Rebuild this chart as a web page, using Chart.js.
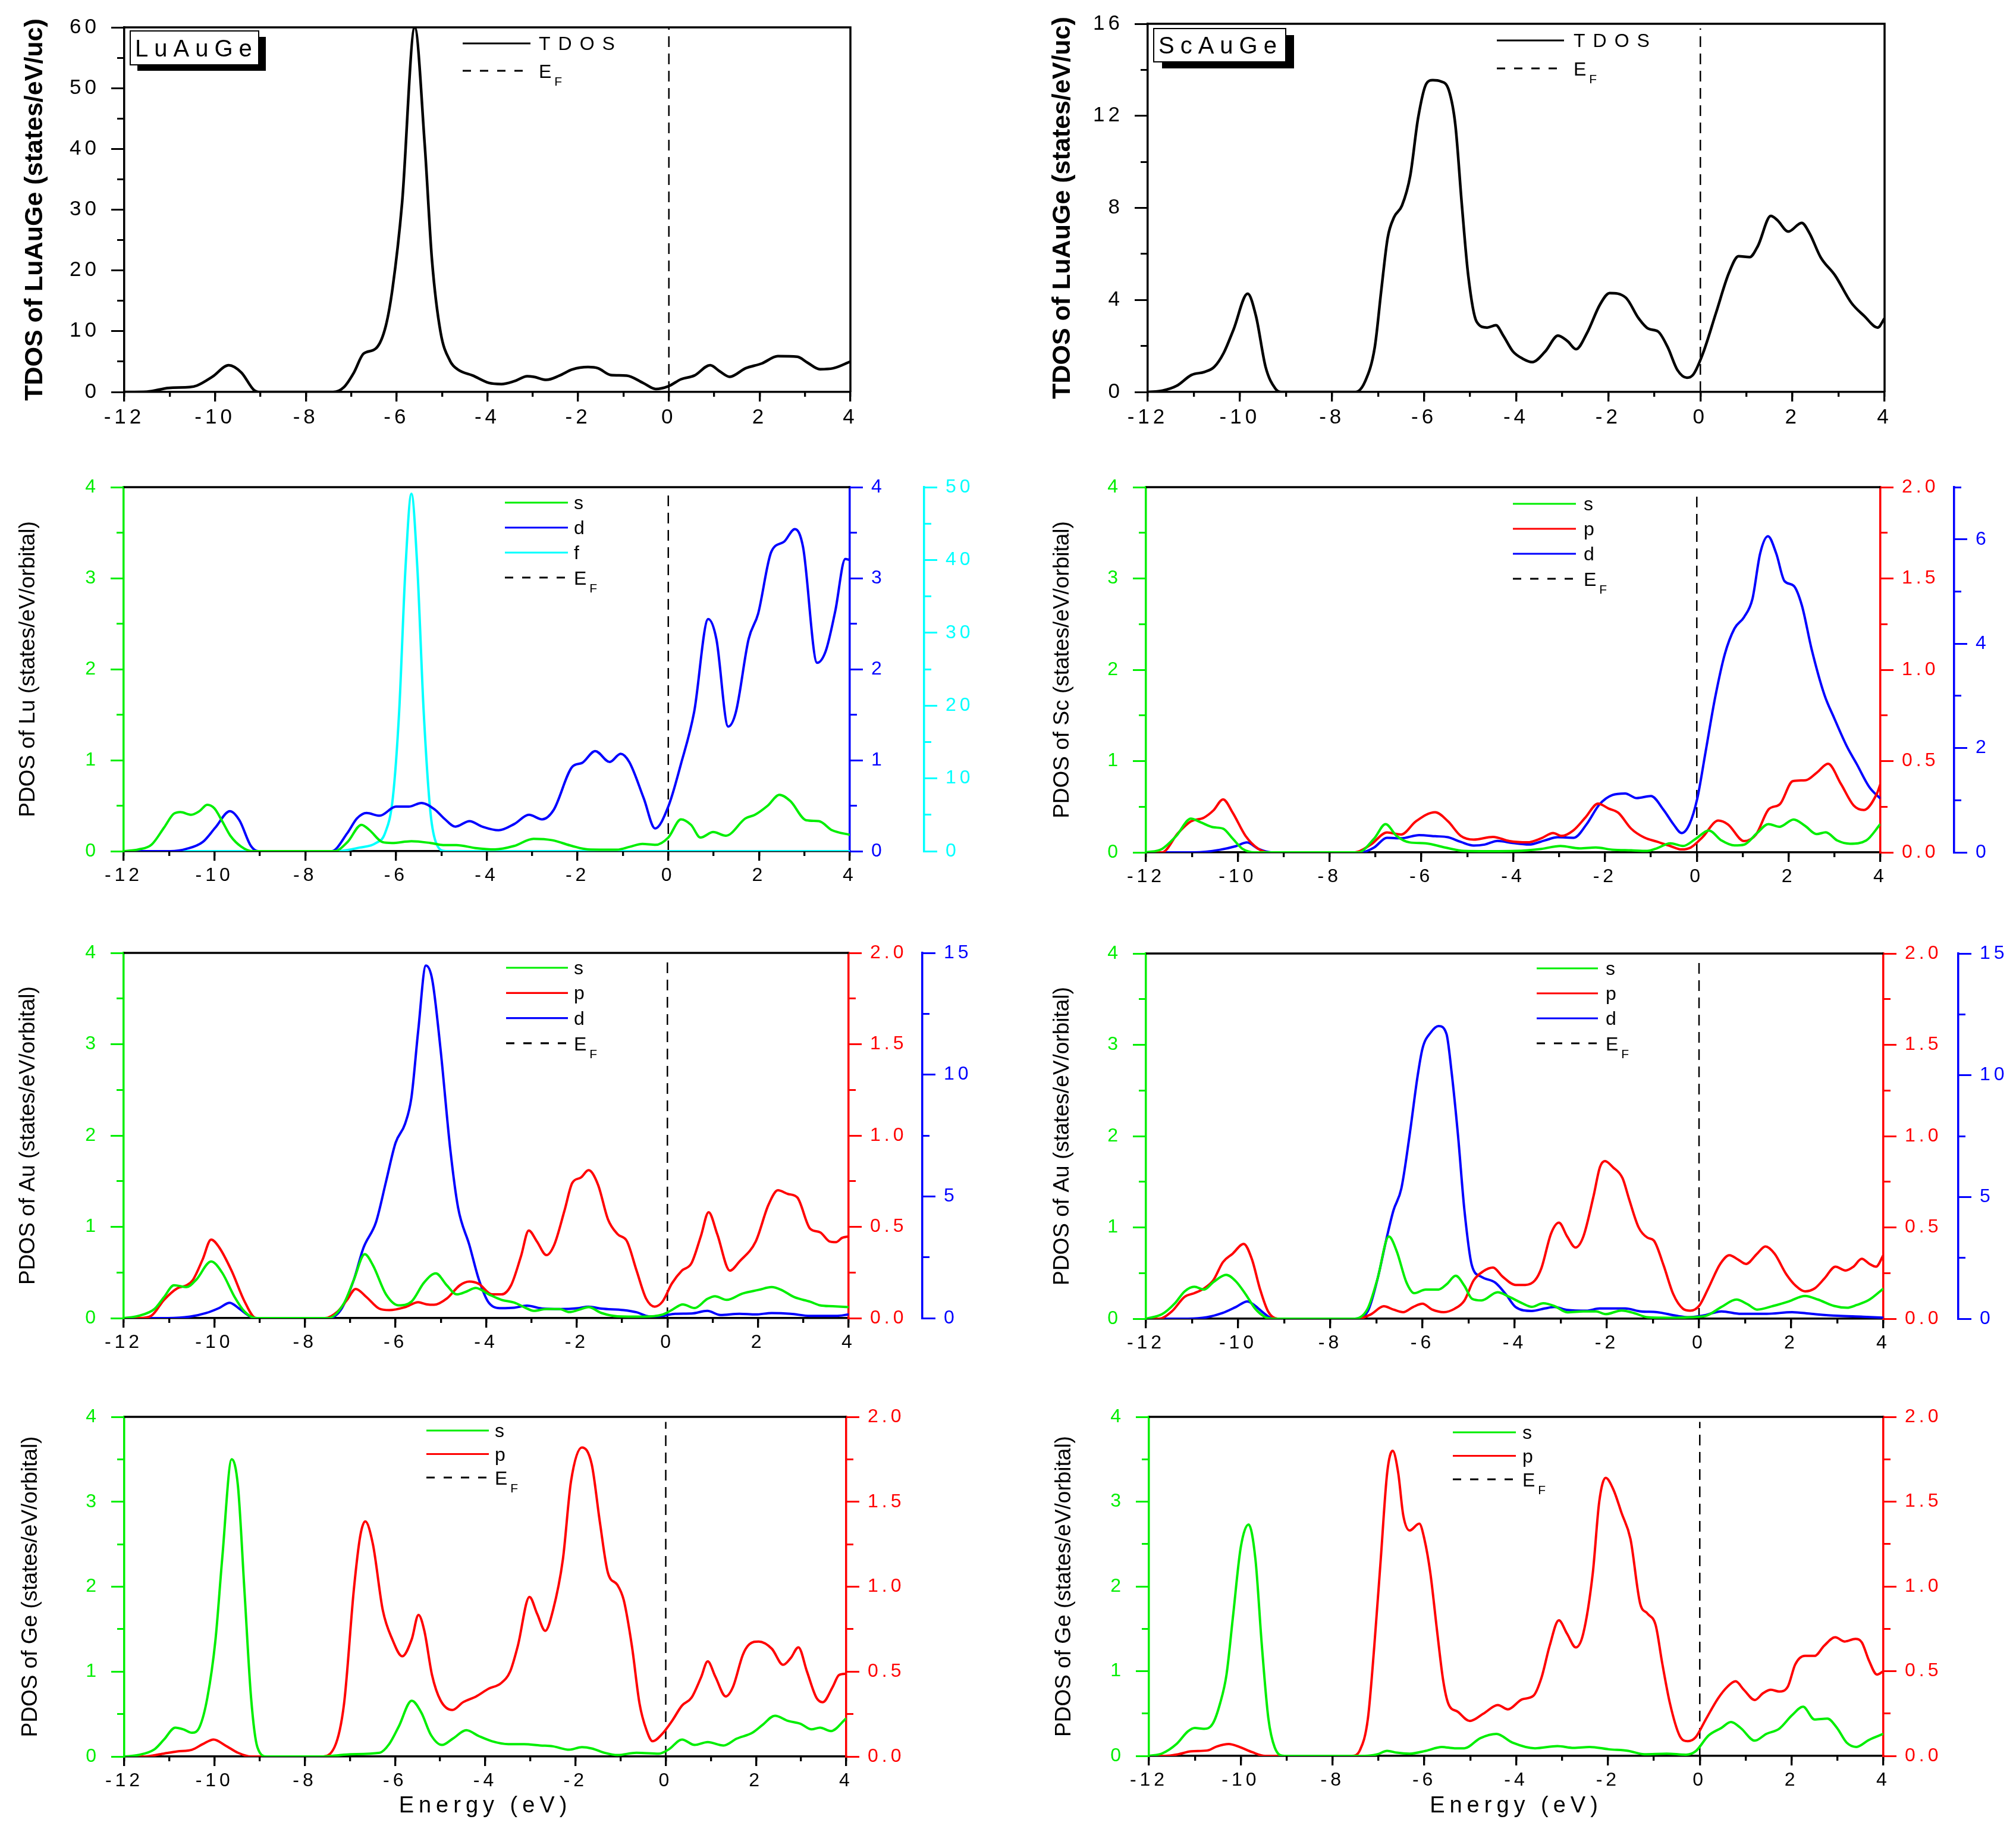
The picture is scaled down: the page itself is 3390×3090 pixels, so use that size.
<!DOCTYPE html>
<html>
<head>
<meta charset="utf-8">
<title>DOS of LuAuGe and ScAuGe</title>
<script src="https://cdn.jsdelivr.net/npm/chart.js@4.4.1/dist/chart.umd.min.js"></script>
<style>
  body { margin: 0; background: #fff; width: 3390px; height: 3090px; position: relative; overflow: hidden; }
  canvas { position: absolute; }
</style>
</head>
<body>
<canvas id="p1"></canvas>
<canvas id="p2"></canvas>
<canvas id="p3"></canvas>
<canvas id="p4"></canvas>
<canvas id="p5"></canvas>
<canvas id="p6"></canvas>
<canvas id="p7"></canvas>
<canvas id="p8"></canvas>
<script>
// ---- data (energy in eV, DOS values) ----
const efE = [0, 0];

// LuAuGe total DOS
const luTdosE = [-12,-11.5,-11.02,-10.56,-10.4,-10.06,-9.7,-9.42,-9.14,-9.0,-7.4,-7.16,-6.94,-6.73,-6.45,-6.24,-6.09,-5.88,-5.6,-5.38,-5.22,-5.03,-4.82,-4.65,-4.32,-3.97,-3.69,-3.4,-3.12,-2.98,-2.7,-2.41,-2.13,-1.78,-1.56,-1.28,-0.93,-0.57,-0.29,-0.01,0.27,0.56,0.91,1.12,1.34,1.69,2.05,2.4,2.83,3.05,3.33,3.62,4.0];
const luTdosV = [0,0.05,0.67,0.8,1.05,2.5,4.4,3.2,0.3,0,0,0.8,3.2,6.3,7.2,10.8,17,31,60,40.7,21.7,9.8,5.1,3.7,2.7,1.5,1.3,1.8,2.6,2.5,2.0,2.7,3.7,4.1,3.9,2.8,2.7,1.5,0.5,0.95,2.1,2.7,4.4,3.4,2.5,3.9,4.7,5.9,5.8,4.85,3.75,3.9,5.0];

// ScAuGe total DOS
const scTdosE = [-12,-11.68,-11.37,-11.05,-10.77,-10.56,-10.35,-10.14,-9.83,-9.65,-9.44,-9.23,-9.1,-7.49,-7.28,-7.07,-6.93,-6.79,-6.65,-6.48,-6.3,-6.13,-5.95,-5.81,-5.64,-5.46,-5.32,-5.18,-5.04,-4.86,-4.63,-4.44,-4.28,-4.07,-3.86,-3.65,-3.37,-3.09,-2.88,-2.7,-2.46,-2.18,-1.97,-1.62,-1.34,-1.13,-0.92,-0.71,-0.5,-0.29,-0.15,0.06,0.34,0.62,0.83,1.07,1.25,1.53,1.67,1.91,2.2,2.37,2.61,2.93,3.28,3.56,3.85,4.0];
const scTdosV = [0,0.06,0.27,0.74,0.87,1.08,1.7,2.7,4.27,3.3,1.08,0.15,0,0,0.46,1.95,4.4,6.7,7.6,8.1,9.4,11.9,13.4,13.55,13.5,13.1,11.6,8.15,5.05,3.06,2.8,2.9,2.45,1.76,1.45,1.3,1.76,2.45,2.2,1.86,2.57,3.8,4.3,4.1,3.2,2.75,2.63,1.95,0.96,0.62,0.77,1.7,3.44,5.17,5.9,5.86,6.35,7.65,7.47,6.97,7.35,6.9,5.86,5.05,3.87,3.3,2.8,3.2];

// Lu partial DOS in LuAuGe
const luSE = [-12,-11.67,-11.39,-11.11,-10.9,-10.75,-10.51,-10.33,-10.16,-10.0,-9.83,-9.65,-9.41,-9.17,-7.36,-7.07,-6.76,-6.58,-6.3,-6.09,-5.66,-5.24,-4.96,-4.67,-4.25,-3.82,-3.4,-2.97,-2.55,-2.12,-1.77,-1.13,-0.85,-0.57,-0.28,0,0.28,0.5,0.71,0.99,1.27,1.7,1.91,2.19,2.45,2.69,3.04,3.32,3.61,4.0];
const luSV = [0,0.02,0.07,0.26,0.41,0.43,0.40,0.44,0.51,0.47,0.33,0.17,0.05,0,0,0.1,0.29,0.23,0.1,0.09,0.11,0.09,0.067,0.067,0.035,0.02,0.057,0.136,0.12,0.057,0.02,0.016,0.048,0.08,0.07,0.15,0.35,0.29,0.15,0.21,0.17,0.36,0.4,0.5,0.62,0.55,0.34,0.33,0.23,0.18];
const luDE = [-12,-10.97,-10.62,-10.26,-9.98,-9.66,-9.45,-9.2,-9.03,-7.42,-7.07,-6.86,-6.65,-6.36,-6.0,-5.72,-5.44,-5.15,-4.94,-4.69,-4.38,-4.1,-3.74,-3.39,-3.07,-2.78,-2.53,-2.11,-1.9,-1.61,-1.29,-1.05,-0.86,-0.54,-0.29,0,0.28,0.57,0.88,1.06,1.32,1.49,1.77,1.98,2.27,2.55,2.79,2.97,3.28,3.47,3.68,3.9,4.0];
const luDV = [0,0,0.025,0.1,0.26,0.44,0.34,0.06,0,0,0.2,0.36,0.42,0.39,0.49,0.49,0.53,0.46,0.36,0.27,0.33,0.27,0.23,0.3,0.4,0.35,0.45,0.93,0.97,1.1,0.98,1.07,0.98,0.58,0.25,0.49,0.96,1.53,2.55,2.33,1.37,1.53,2.33,2.61,3.29,3.4,3.54,3.34,2.07,2.2,2.64,3.21,3.2];
const luFE = [-12,-7.3,-6.8,-6.45,-6.24,-6.07,-5.93,-5.79,-5.66,-5.53,-5.39,-5.24,-5.1,-4.9,4.0];
const luFV = [0,0,0.5,1.1,2.5,7.3,19.2,39,49.1,39,19.2,5.3,0.9,0,0];

// Sc partial DOS in ScAuGe
const scSE = [-12,-11.65,-11.34,-11.02,-10.81,-10.53,-10.32,-10.11,-9.9,-9.62,-7.38,-7.03,-6.78,-6.54,-6.26,-5.91,-5.49,-5.07,-4.5,-3.95,-3.39,-2.97,-2.55,-2.2,-1.85,-1.43,-1.08,-0.86,-0.58,-0.3,-0.02,0.26,0.54,0.82,1.03,1.31,1.56,1.8,2.11,2.36,2.61,2.81,3.06,3.34,3.69,4.0];
const scSV = [0,0.038,0.18,0.37,0.33,0.275,0.26,0.15,0.04,0,0,0.15,0.31,0.18,0.11,0.1,0.054,0.016,0.013,0.016,0.038,0.07,0.044,0.054,0.03,0.022,0.016,0.047,0.1,0.07,0.15,0.24,0.13,0.076,0.085,0.21,0.31,0.28,0.36,0.29,0.2,0.22,0.13,0.095,0.13,0.31];
const scPE = [-12,-11.65,-11.3,-11.02,-10.74,-10.53,-10.32,-10.11,-9.83,-9.55,-9.34,-7.45,-7.1,-6.75,-6.44,-6.12,-5.7,-5.42,-5.14,-4.86,-4.44,-4.08,-3.69,-3.39,-3.13,-2.94,-2.69,-2.43,-2.15,-1.92,-1.71,-1.43,-1.15,-0.86,-0.58,-0.33,-0.13,0.12,0.47,0.68,1.03,1.29,1.57,1.81,2.09,2.37,2.62,2.86,3.14,3.42,3.64,3.92,4.0];
const scPV = [0,0,0.106,0.17,0.19,0.23,0.29,0.217,0.09,0.019,0,0,0.043,0.109,0.098,0.17,0.22,0.17,0.09,0.07,0.085,0.062,0.055,0.077,0.106,0.09,0.12,0.19,0.267,0.24,0.217,0.13,0.082,0.058,0.035,0.016,0.027,0.082,0.174,0.153,0.062,0.098,0.237,0.264,0.39,0.395,0.438,0.485,0.375,0.256,0.232,0.32,0.375];
const scDE = [-12,-10.95,-10.39,-10.04,-9.8,-9.55,-9.27,-7.31,-7.03,-6.75,-6.44,-6.05,-5.7,-5.42,-5.14,-4.86,-4.62,-4.34,-4.01,-3.66,-3.31,-3.03,-2.68,-2.4,-2.12,-1.84,-1.56,-1.31,-1.0,-0.72,-0.51,-0.33,-0.16,0.01,0.19,0.4,0.61,0.82,1.03,1.21,1.38,1.55,1.73,1.91,2.11,2.29,2.5,2.78,2.99,3.27,3.48,3.76,4.0];
const scDV = [0,0,0.05,0.12,0.19,0.066,0,0,0.094,0.28,0.27,0.33,0.31,0.29,0.2,0.13,0.15,0.22,0.18,0.15,0.23,0.29,0.28,0.54,0.92,1.1,1.13,1.04,1.08,0.81,0.54,0.37,0.54,1.03,1.92,2.97,3.8,4.29,4.51,4.85,5.73,6.06,5.73,5.2,5.11,4.73,3.9,3.02,2.58,2.03,1.7,1.25,1.03];

// Au partial DOS in LuAuGe
const auLuSE = [-12,-11.67,-11.32,-11.11,-10.89,-10.61,-10.4,-10.07,-9.83,-9.55,-9.33,-9.08,-7.49,-7.13,-6.92,-6.68,-6.5,-6.21,-5.93,-5.65,-5.37,-5.11,-4.87,-4.65,-4.44,-4.23,-3.94,-3.66,-3.38,-3.16,-2.95,-2.67,-2.38,-2.17,-1.96,-1.74,-1.46,-1.1,-0.53,-0.1,0.1,0.34,0.6,0.88,1.05,1.31,1.66,2.02,2.3,2.51,2.8,3.15,3.37,3.65,4.0];
const auLuSV = [0,0.025,0.1,0.23,0.36,0.34,0.42,0.62,0.5,0.23,0.07,0,0,0.17,0.42,0.7,0.58,0.26,0.14,0.18,0.39,0.49,0.36,0.26,0.29,0.33,0.26,0.2,0.17,0.12,0.08,0.1,0.1,0.066,0.09,0.12,0.057,0.02,0.016,0.04,0.09,0.15,0.11,0.21,0.24,0.2,0.27,0.31,0.34,0.31,0.23,0.18,0.14,0.13,0.12];
const auLuPE = [-12,-11.67,-11.39,-11.11,-10.82,-10.61,-10.47,-10.26,-10.07,-9.9,-9.62,-9.33,-9.08,-7.56,-7.28,-7.07,-6.88,-6.64,-6.36,-6.14,-5.79,-5.5,-5.32,-5.15,-4.87,-4.58,-4.37,-4.16,-3.87,-3.66,-3.45,-3.23,-3.06,-2.88,-2.67,-2.5,-2.27,-2.1,-1.91,-1.74,-1.53,-1.31,-1.1,-0.89,-0.68,-0.47,-0.28,-0.11,0.1,0.32,0.53,0.74,0.91,1.1,1.38,1.59,1.95,2.23,2.44,2.66,2.87,3.15,3.37,3.58,3.72,3.86,4.0];
const auLuPV = [0,0,0.013,0.1,0.163,0.18,0.21,0.32,0.43,0.39,0.26,0.09,0,0,0.036,0.1,0.16,0.115,0.052,0.044,0.06,0.087,0.076,0.073,0.107,0.18,0.2,0.187,0.13,0.13,0.18,0.34,0.48,0.42,0.345,0.4,0.59,0.74,0.77,0.81,0.73,0.54,0.46,0.42,0.26,0.107,0.063,0.09,0.19,0.26,0.3,0.45,0.58,0.46,0.26,0.31,0.42,0.62,0.7,0.68,0.66,0.49,0.47,0.42,0.416,0.44,0.447];
const auLuDE = [-12,-11.03,-10.54,-10.18,-9.9,-9.66,-9.45,-9.2,-9.05,-7.49,-7.21,-6.92,-6.71,-6.43,-6.21,-6.0,-5.79,-5.65,-5.5,-5.33,-5.19,-5.01,-4.79,-4.62,-4.37,-4.16,-3.94,-3.66,-3.38,-3.1,-2.75,-2.38,-1.96,-1.74,-1.46,-0.97,-0.68,-0.4,-0.11,0.17,0.53,0.88,1.17,1.59,1.95,2.3,2.72,3.15,3.72,4.0];
const auLuDV = [0,0,0.06,0.21,0.41,0.63,0.39,0.06,0,0,0.33,1.58,2.88,3.95,5.61,7.2,7.98,9.05,11.8,14.48,13.9,11.1,6.9,4.54,3.0,1.58,0.63,0.41,0.43,0.51,0.39,0.37,0.41,0.47,0.39,0.33,0.24,0.07,0.09,0.18,0.19,0.3,0.13,0.18,0.15,0.21,0.18,0.09,0.09,0.15];

// Au partial DOS in ScAuGe
const auScSE = [-12,-11.65,-11.37,-11.16,-10.95,-10.74,-10.54,-10.26,-10.05,-9.84,-9.63,-9.42,-9.28,-7.47,-7.19,-6.98,-6.73,-6.56,-6.35,-6.18,-5.93,-5.65,-5.47,-5.28,-5.09,-4.93,-4.72,-4.37,-4.12,-3.84,-3.63,-3.38,-3.14,-2.86,-2.51,-2.23,-2.03,-1.68,-1.4,-1.12,-0.63,-0.21,0.14,0.49,0.81,1.05,1.26,1.61,1.95,2.3,2.58,2.93,3.21,3.42,3.7,4.0];
const auScSV = [0,0.05,0.17,0.3,0.35,0.32,0.4,0.48,0.41,0.27,0.11,0.02,0,0,0.11,0.43,0.9,0.74,0.4,0.28,0.32,0.32,0.38,0.47,0.36,0.22,0.2,0.29,0.24,0.17,0.13,0.17,0.14,0.07,0.08,0.08,0.05,0.09,0.06,0.016,0.01,0.016,0.03,0.13,0.21,0.16,0.1,0.14,0.19,0.25,0.21,0.14,0.12,0.15,0.21,0.33];
const auScPE = [-12,-11.72,-11.44,-11.16,-10.95,-10.74,-10.54,-10.33,-10.12,-9.88,-9.7,-9.53,-9.35,-9.14,-7.4,-7.12,-6.84,-6.63,-6.42,-6.21,-6.0,-5.79,-5.54,-5.3,-5.09,-4.89,-4.68,-4.47,-4.26,-3.98,-3.77,-3.56,-3.42,-3.21,-3.04,-2.86,-2.68,-2.51,-2.29,-2.15,-2.04,-1.87,-1.66,-1.52,-1.31,-1.12,-0.98,-0.77,-0.56,-0.35,-0.19,0.0,0.2,0.46,0.66,0.84,1.02,1.26,1.44,1.64,1.89,2.1,2.3,2.51,2.72,2.96,3.18,3.35,3.53,3.7,3.84,4.0];
const auScPV = [0,0,0.04,0.12,0.14,0.166,0.21,0.31,0.356,0.41,0.325,0.166,0.04,0,0,0.024,0.068,0.05,0.036,0.063,0.082,0.05,0.036,0.055,0.1,0.21,0.26,0.28,0.23,0.185,0.185,0.21,0.277,0.467,0.526,0.45,0.39,0.45,0.67,0.83,0.863,0.83,0.77,0.657,0.5,0.444,0.428,0.293,0.135,0.055,0.044,0.07,0.166,0.3,0.348,0.325,0.3,0.356,0.396,0.356,0.245,0.18,0.15,0.166,0.22,0.285,0.264,0.285,0.328,0.3,0.285,0.348];
const auScDE = [-12,-11.1,-10.68,-10.33,-10.05,-9.8,-9.63,-9.45,-9.28,-9.15,-7.47,-7.19,-6.98,-6.77,-6.63,-6.46,-6.28,-6.11,-6.0,-5.82,-5.65,-5.48,-5.37,-5.23,-5.09,-4.93,-4.72,-4.42,-4.19,-3.98,-3.63,-3.35,-3.14,-2.86,-2.44,-2.16,-1.6,-1.26,-0.91,-0.49,-0.21,0.07,0.49,0.91,1.47,2.02,2.44,3.0,3.56,4.0];
const auScDV = [0,0,0.06,0.24,0.48,0.71,0.53,0.24,0.02,0,0,0.3,1.6,3.38,4.45,5.34,7.54,9.92,11.1,11.76,12.02,11.7,10.15,7.54,4.45,2.2,1.72,1.48,1.0,0.48,0.32,0.42,0.48,0.36,0.33,0.42,0.42,0.3,0.27,0.12,0.06,0.12,0.3,0.2,0.2,0.27,0.2,0.12,0.08,0.04];

// Ge partial DOS in LuAuGe
const geLuSE = [-12,-11.69,-11.33,-11.12,-10.87,-10.69,-10.5,-10.33,-10.16,-9.98,-9.83,-9.62,-9.48,-9.34,-9.19,-9.05,-8.84,-7.63,-7.34,-6.99,-6.34,-6.13,-5.92,-5.63,-5.42,-5.2,-4.96,-4.71,-4.42,-4.14,-3.85,-3.49,-3.14,-2.78,-2.5,-2.14,-1.86,-1.64,-1.36,-1.07,-0.65,-0.15,0.07,0.36,0.64,0.93,1.28,1.57,1.92,2.14,2.42,2.71,2.99,3.23,3.42,3.66,4.0];
const geLuSV = [0,0.017,0.085,0.2,0.34,0.32,0.28,0.35,0.69,1.37,2.33,3.5,3.18,1.98,0.69,0.11,0,0,0.01,0.027,0.044,0.146,0.35,0.657,0.52,0.25,0.136,0.214,0.31,0.24,0.18,0.146,0.146,0.13,0.12,0.08,0.11,0.095,0.044,0.017,0.044,0.034,0.085,0.2,0.136,0.17,0.13,0.21,0.28,0.37,0.48,0.42,0.385,0.32,0.34,0.3,0.45];
const geLuPE = [-12,-11.54,-11.19,-10.83,-10.5,-10.26,-10.02,-9.76,-9.48,-9.19,-7.63,-7.34,-7.13,-6.91,-6.77,-6.66,-6.49,-6.27,-6.06,-5.84,-5.63,-5.48,-5.35,-5.18,-4.99,-4.73,-4.49,-4.2,-3.92,-3.66,-3.45,-3.28,-3.02,-2.85,-2.67,-2.5,-2.28,-2.1,-1.86,-1.64,-1.46,-1.28,-1.07,-0.93,-0.75,-0.58,-0.43,-0.29,-0.08,0.14,0.36,0.57,0.78,0.93,1.1,1.33,1.49,1.71,1.85,2.06,2.35,2.6,2.77,2.94,3.13,3.34,3.48,3.7,3.84,4.0];
const geLuPV = [0,0,0.014,0.03,0.04,0.073,0.1,0.065,0.022,0,0,0.056,0.31,0.99,1.3,1.384,1.25,0.86,0.69,0.59,0.69,0.834,0.74,0.48,0.33,0.274,0.32,0.354,0.4,0.43,0.5,0.65,0.94,0.84,0.74,0.86,1.16,1.62,1.82,1.72,1.38,1.08,1.01,0.92,0.65,0.31,0.158,0.09,0.133,0.21,0.3,0.346,0.465,0.56,0.47,0.354,0.41,0.6,0.66,0.677,0.635,0.54,0.58,0.643,0.5,0.346,0.32,0.41,0.48,0.487];

// Ge partial DOS in ScAuGe
const geScSE = [-12,-11.71,-11.4,-11.15,-11.0,-10.8,-10.61,-10.45,-10.31,-10.17,-10.0,-9.83,-9.68,-9.54,-9.4,-9.26,-9.05,-7.3,-7.02,-6.81,-6.6,-6.32,-5.97,-5.62,-5.34,-5.13,-4.78,-4.43,-4.08,-3.59,-3.1,-2.75,-2.4,-1.98,-1.56,-1.21,-0.72,-0.3,-0.09,0.19,0.47,0.68,0.89,1.2,1.45,1.73,2.01,2.25,2.5,2.78,2.99,3.2,3.41,3.69,4.0];
const geScSV = [0,0.03,0.14,0.29,0.33,0.32,0.38,0.62,0.96,1.64,2.46,2.73,2.32,1.3,0.45,0.1,0,0,0.02,0.06,0.038,0.027,0.06,0.106,0.09,0.09,0.21,0.26,0.157,0.09,0.116,0.095,0.106,0.078,0.06,0.02,0.027,0.014,0.055,0.24,0.33,0.4,0.33,0.18,0.26,0.32,0.48,0.58,0.43,0.44,0.33,0.157,0.106,0.19,0.26];
const geScPE = [-12,-11.64,-11.36,-11.08,-10.73,-10.52,-10.26,-10.03,-9.75,-9.47,-7.58,-7.4,-7.23,-7.09,-6.95,-6.81,-6.69,-6.57,-6.46,-6.32,-6.11,-6.0,-5.87,-5.72,-5.59,-5.48,-5.27,-5.01,-4.71,-4.4,-4.18,-3.87,-3.62,-3.45,-3.27,-3.07,-2.89,-2.7,-2.54,-2.33,-2.19,-2.05,-1.88,-1.7,-1.51,-1.3,-1.14,-0.96,-0.82,-0.65,-0.44,-0.26,-0.09,0.12,0.4,0.61,0.78,0.96,1.2,1.38,1.55,1.73,1.92,2.08,2.29,2.5,2.71,2.95,3.16,3.39,3.53,3.69,3.86,4.0];
const geScPV = [0,0,0.01,0.027,0.032,0.056,0.07,0.053,0.022,0,0,0.036,0.22,0.65,1.16,1.67,1.8,1.67,1.42,1.33,1.37,1.28,1.08,0.73,0.445,0.31,0.26,0.206,0.25,0.3,0.275,0.334,0.356,0.46,0.65,0.8,0.72,0.64,0.72,1.08,1.5,1.64,1.57,1.43,1.28,0.9,0.84,0.77,0.55,0.31,0.12,0.087,0.11,0.21,0.34,0.41,0.44,0.39,0.33,0.37,0.39,0.38,0.41,0.54,0.59,0.59,0.65,0.7,0.675,0.69,0.67,0.56,0.48,0.5];

// ---- styling ----
const FONT = "'Liberation Sans', Arial, sans-serif";
const GREEN = '#00ee00', RED = '#ff0000', BLUE = '#0000ff', CYAN = '#00ffff', BLACK = '#000000';

// the figure's tick labels and x title are letter-spaced; y titles are not
const baseDrawLabels = Chart.LinearScale.prototype.drawLabels;
Chart.LinearScale.prototype.drawLabels = function (area) {
  const c = this.ctx;
  c.save();
  c.letterSpacing = this.options.ticks.spacing || '0px';
  baseDrawLabels.call(this, area);
  c.restore();
};
const baseDrawTitle = Chart.LinearScale.prototype.drawTitle;
Chart.LinearScale.prototype.drawTitle = function () {
  const c = this.ctx;
  c.save();
  c.letterSpacing = this.options.title.spacing || '0px';
  baseDrawTitle.call(this);
  c.restore();
};

function pts(es, vs) {
  return es.map((e, i) => ({ x: e, y: vs[i] }));
}

function curve(label, es, vs, color, axis, width) {
  return {
    label, data: pts(es, vs), borderColor: color, borderWidth: width || 4,
    xAxisID: 'x', yAxisID: axis, pointRadius: 0, fill: false,
    cubicInterpolationMode: 'monotone'
  };
}

function fermi(top) {
  return {
    label: 'EF', sub: true, data: pts(efE, [0, top]), borderColor: BLACK, borderWidth: 2.5,
    borderDash: [18, 11], xAxisID: 'x', yAxisID: 'y', pointRadius: 0, tension: 0
  };
}

function xAxes(size, height, title) {
  return {
    x: {
      type: 'linear', position: 'bottom', min: -12, max: 4, weight: 1,
      afterFit: s => { s.height = height; },
      border: { color: BLACK, width: 3.5 },
      grid: { drawOnChartArea: false, color: BLACK, lineWidth: 3.3, tickLength: 16 },
      ticks: { stepSize: 2, autoSkip: false, maxRotation: 0, color: BLACK, padding: 6, spacing: '6px',
               font: { family: FONT, size }, callback: v => String(v) },
      title: title
        ? { display: true, text: title, color: BLACK, spacing: '8px', font: { family: FONT, size: 38 }, padding: { top: 0, bottom: 31 } }
        : { display: false }
    },
    xMinor: {
      type: 'linear', position: 'bottom', min: -12, max: 4, weight: 0,
      afterFit: s => { s.height = 0; },
      border: { display: false },
      grid: { drawOnChartArea: false, color: BLACK, lineWidth: 3.3, tickLength: 8 },
      ticks: { display: false, stepSize: 1, autoSkip: false }
    }
  };
}

// a value axis plus an unlabeled twin that carries the short minor ticks
function valueAxes(id, pos, max, major, minor, color, width, weight, size, fmt, title) {
  const out = {};
  out[id] = {
    type: 'linear', position: pos, min: 0, max, weight: weight + 1,
    afterFit: s => { s.width = width; },
    border: { color, width: 3.5 },
    grid: { drawOnChartArea: false, color, lineWidth: 3, tickLength: 22 },
    ticks: { stepSize: major, autoSkip: false, includeBounds: false, color, spacing: '6px',
             padding: pos === 'left' ? 19 : 14, font: { family: FONT, size },
             callback: fmt || (v => String(v)) },
    title: title || { display: false }
  };
  out[id + 'Minor'] = {
    type: 'linear', position: pos, min: 0, max, weight,
    afterFit: s => { s.width = 0; },
    border: { display: false },
    grid: { drawOnChartArea: false, color, lineWidth: 3, tickLength: 12 },
    ticks: { display: false, stepSize: minor, autoSkip: false }
  };
  return out;
}

function yTitle(text, bold, size, pad) {
  return { display: true, text, color: BLACK, padding: { top: pad, bottom: 0 },
           font: { family: FONT, size, weight: bold ? 'bold' : 'normal' } };
}

const fix1 = v => v.toFixed(1);

// ---- drawing helpers (frame, in-plot legend, compound tag) ----
const framePlugin = {
  id: 'frame',
  afterDatasetsDraw(chart, args, o) {
    const { ctx, chartArea: a } = chart;
    ctx.save();
    ctx.strokeStyle = BLACK;
    ctx.lineWidth = 3.5;
    ctx.beginPath();
    ctx.moveTo(a.left, a.top);
    ctx.lineTo(a.right, a.top);
    if (o && o.right) { ctx.lineTo(a.right, a.bottom); }
    ctx.stroke();
    ctx.restore();
  }
};

const legendPlugin = {
  id: 'dosLegend',
  afterDatasetsDraw(chart, args, o) {
    if (!o || o.dx === undefined) return;
    const { ctx, chartArea: a } = chart;
    ctx.save();
    chart.data.datasets.forEach((ds, i) => {
      const y = a.top + o.dy + i * o.gap;
      ctx.strokeStyle = ds.borderColor;
      ctx.lineWidth = 3.2;
      ctx.setLineDash(ds.borderDash ? [14, 15] : []);
      ctx.beginPath();
      ctx.moveTo(a.left + o.dx, y);
      ctx.lineTo(a.left + o.dx + o.len, y);
      ctx.stroke();
      ctx.setLineDash([]);
      ctx.fillStyle = BLACK;
      ctx.textAlign = 'left';
      ctx.textBaseline = 'alphabetic';
      ctx.font = o.size + 'px ' + FONT;
      ctx.letterSpacing = o.spacing || '0px';
      const tx = a.left + o.tx;
      if (ds.sub) {
        ctx.letterSpacing = '0px';
        ctx.fillText('E', tx, y + 12);
        const w = ctx.measureText('E').width;
        ctx.font = Math.round(o.size * 0.66) + 'px ' + FONT;
        ctx.fillText('F', tx + w + 5, y + 25);
      } else {
        ctx.fillText(ds.label, tx, y + 11);
      }
    });
    ctx.restore();
  }
};

const tagPlugin = {
  id: 'tag',
  afterDatasetsDraw(chart, args, o) {
    if (!o || !o.text) return;
    const { ctx, chartArea: a } = chart;
    const x = a.left + o.x, y = a.top + o.y;
    ctx.save();
    ctx.fillStyle = BLACK;
    ctx.fillRect(x + o.sx, y + o.sy, o.w, o.h);
    ctx.fillStyle = '#ffffff';
    ctx.fillRect(x, y, o.w, o.h);
    ctx.strokeStyle = BLACK;
    ctx.lineWidth = 2;
    ctx.strokeRect(x, y, o.w, o.h);
    ctx.fillStyle = BLACK;
    ctx.font = '40px ' + FONT;
    ctx.letterSpacing = '10px';
    ctx.textBaseline = 'alphabetic';
    ctx.fillText(o.text, x + 8, y + o.h - 14);
    ctx.restore();
  }
};

Chart.register(framePlugin, legendPlugin, tagPlugin);

function panel(id, p) {
  const el = document.getElementById(id);
  el.style.left = p.box[0] + 'px';
  el.style.top = p.box[1] + 'px';
  el.width = p.box[2];
  el.height = p.box[3];
  new Chart(el, {
    type: 'line',
    data: { datasets: p.datasets },
    options: {
      responsive: false, maintainAspectRatio: false, animation: false,
      layout: { padding: p.pad },
      scales: Object.assign({}, p.x, p.axes),
      plugins: {
        legend: { display: false }, tooltip: { enabled: false },
        frame: { right: !!p.boxRight }, dosLegend: p.legend, tag: p.tag || {}
      }
    }
  });
}

// ---- the eight panels ----
panel('p1', {
  box: [0, 0, 1695, 760], pad: { left: 0, top: 46, right: 265, bottom: 16 }, boxRight: true,
  x: xAxes(35, 85),
  axes: valueAxes('y', 'left', 60, 10, 5, BLACK, 209, 0, 35, null, yTitle('TDOS of LuAuGe (states/eV/uc)', true, 43, 33)),
  datasets: [curve('TDOS', luTdosE, luTdosV, BLACK, 'y', 4.5), fermi(60)],
  legend: { dx: 569, dy: 27, gap: 46, len: 114, tx: 697, size: 32, spacing: '13px' },
  tag: { text: 'LuAuGe', x: 10, y: 6, w: 216, h: 57, sx: 12, sy: 10 }
});

panel('p2', {
  box: [1695, 0, 1695, 760], pad: { left: 0, top: 33, right: 221, bottom: 16 }, boxRight: true,
  x: xAxes(35, 85),
  axes: valueAxes('y', 'left', 16, 4, 2, BLACK, 235, 0, 35, null, yTitle('TDOS of LuAuGe (states/eV/uc)', true, 43, 66)),
  datasets: [curve('TDOS', scTdosE, scTdosV, BLACK, 'y', 4.5), fermi(15.8)],
  legend: { dx: 587, dy: 28, gap: 47, len: 113, tx: 716, size: 32, spacing: '13px' },
  tag: { text: 'ScAuGe', x: 10, y: 8, w: 222, h: 56, sx: 14, sy: 11 }
});

panel('p3', {
  box: [0, 760, 1695, 760], pad: { left: 0, top: 59, right: 0, bottom: 4 },
  x: xAxes(32, 85),
  axes: Object.assign(
    valueAxes('y', 'left', 4, 1, 0.5, GREEN, 208, 0, 32, null, yTitle('PDOS of Lu (states/eV/orbital)', false, 37, 26)),
    valueAxes('yd', 'right', 4, 1, 0.5, BLUE, 125, 0, 32),
    valueAxes('yf', 'right', 50, 10, 5, CYAN, 141, 2, 32)),
  datasets: [curve('s', luSE, luSV, GREEN, 'y'), curve('d', luDE, luDV, BLUE, 'yd'),
             curve('f', luFE, luFV, CYAN, 'yf'), fermi(3.94)],
  legend: { dx: 641, dy: 26, gap: 42, len: 106, tx: 757, size: 32 }
});

panel('p4', {
  box: [1695, 760, 1695, 760], pad: { left: 0, top: 59, right: 0, bottom: 2 },
  x: xAxes(32, 85),
  axes: Object.assign(
    valueAxes('y', 'left', 4, 1, 0.5, GREEN, 232, 0, 32, null, yTitle('PDOS of Sc (states/eV/orbital)', false, 37, 70)),
    valueAxes('yp', 'right', 2, 0.5, 0.25, RED, 124, 0, 32, fix1),
    valueAxes('yd', 'right', 7, 2, 1, BLUE, 104, 2, 32)),
  datasets: [curve('s', scSE, scSV, GREEN, 'y'), curve('p', scPE, scPV, RED, 'yp'),
             curve('d', scDE, scDV, BLUE, 'yd'), fermi(3.94)],
  legend: { dx: 617, dy: 28, gap: 42, len: 106, tx: 736, size: 32 }
});

panel('p5', {
  box: [0, 1520, 1695, 790], pad: { left: 0, top: 82, right: 0, bottom: 9 },
  x: xAxes(32, 85),
  axes: Object.assign(
    valueAxes('y', 'left', 4, 1, 0.5, GREEN, 208, 0, 32, null, yTitle('PDOS of Au (states/eV/orbital)', false, 37, 26)),
    valueAxes('yp', 'right', 2, 0.5, 0.25, RED, 124, 0, 32, fix1),
    valueAxes('yd', 'right', 15, 5, 2.5, BLUE, 144, 2, 32)),
  datasets: [curve('s', auLuSE, auLuSV, GREEN, 'y'), curve('p', auLuPE, auLuPV, RED, 'yp'),
             curve('d', auLuDE, auLuDV, BLUE, 'yd'), fermi(3.95)],
  legend: { dx: 643, dy: 25, gap: 42.3, len: 104, tx: 757, size: 32 }
});

panel('p6', {
  box: [1695, 1520, 1695, 790], pad: { left: 0, top: 83, right: 0, bottom: 8 },
  x: xAxes(32, 85),
  axes: Object.assign(
    valueAxes('y', 'left', 4, 1, 0.5, GREEN, 232, 0, 32, null, yTitle('PDOS of Au (states/eV/orbital)', false, 37, 70)),
    valueAxes('yp', 'right', 2, 0.5, 0.25, RED, 126, 0, 32, fix1),
    valueAxes('yd', 'right', 15, 5, 2.5, BLUE, 97, 2, 32)),
  datasets: [curve('s', auScSE, auScSV, GREEN, 'y'), curve('p', auScPE, auScPV, RED, 'yp'),
             curve('d', auScDE, auScDV, BLUE, 'yd'), fermi(3.94)],
  legend: { dx: 657, dy: 25, gap: 42, len: 103, tx: 773, size: 32 }
});

panel('p7', {
  box: [0, 2310, 1695, 780], pad: { left: 0, top: 72, right: 0, bottom: 0 },
  x: xAxes(32, 137, 'Energy (eV)'),
  axes: Object.assign(
    valueAxes('y', 'left', 4, 1, 0.5, GREEN, 209, 0, 32, null, yTitle('PDOS of Ge (states/eV/orbital)', false, 37, 30)),
    valueAxes('yp', 'right', 2, 0.5, 0.25, RED, 272, 0, 32, fix1)),
  datasets: [curve('s', geLuSE, geLuSV, GREEN, 'y'), curve('p', geLuPE, geLuPV, RED, 'yp'), fermi(3.94)],
  legend: { dx: 508, dy: 23, gap: 39.5, len: 105, tx: 623, size: 32 }
});

panel('p8', {
  box: [1695, 2310, 1695, 780], pad: { left: 0, top: 72, right: 0, bottom: 0 },
  x: xAxes(32, 138, 'Energy (eV)'),
  axes: Object.assign(
    valueAxes('y', 'left', 4, 1, 0.5, GREEN, 237, 0, 32, null, yTitle('PDOS of Ge (states/eV/orbital)', false, 37, 73)),
    valueAxes('yp', 'right', 2, 0.5, 0.25, RED, 223, 0, 32, fix1)),
  datasets: [curve('s', geScSE, geScSV, GREEN, 'y'), curve('p', geScPE, geScPV, RED, 'yp'), fermi(3.94)],
  legend: { dx: 511, dy: 26, gap: 39.5, len: 106, tx: 628, size: 32 }
});
</script>
</body>
</html>
